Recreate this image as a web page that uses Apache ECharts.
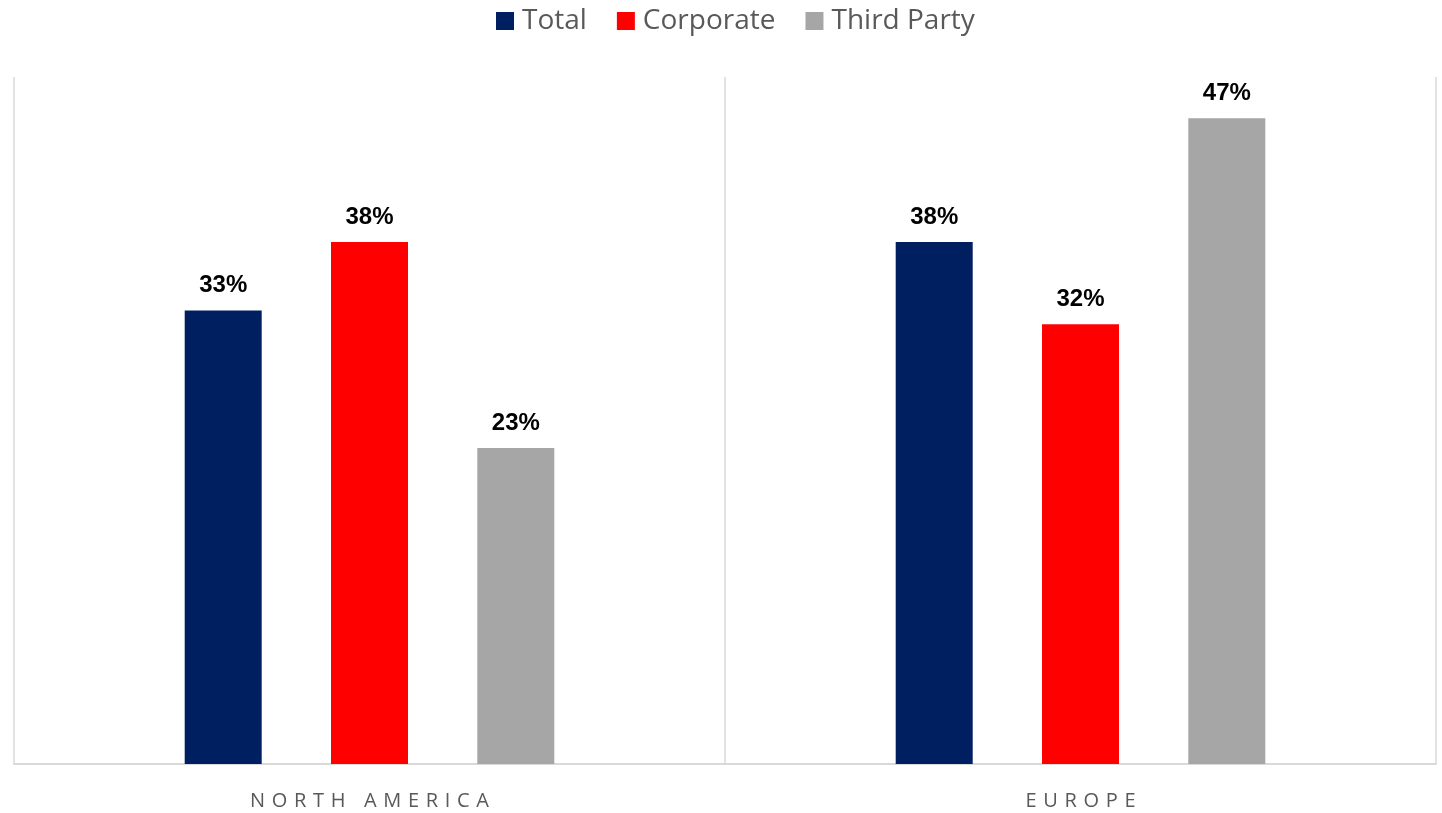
<!DOCTYPE html>
<html>
<head>
<meta charset="utf-8">
<style>
  html, body { margin: 0; padding: 0; background: #ffffff; }
  #chart { width: 1442px; height: 813px; }
</style>
<script src="https://cdn.jsdelivr.net/npm/echarts@6/dist/echarts.min.js"></script>
</head>
<body>
<div id="chart"></div>
<script>
// Regions on the category axis
const categories = ['NORTH AMERICA', 'EUROPE'];
// Share (%) per region for each group
const totalValues = [33, 38];
const corporateValues = [38, 32];
const thirdPartyValues = [23, 47];

const chart = echarts.init(document.getElementById('chart'));

// Spread letters of the axis labels apart
const spaced = s => s.split('').join('\u2004');

const labelStyle = {
  show: true,
  position: 'top',
  distance: 13,
  formatter: '{c}%',
  color: '#000000',
  fontWeight: 'bold',
  fontSize: 24,
  fontFamily: 'Liberation Sans, Arial, sans-serif'
};

chart.setOption({
  animation: false,
  legend: {
    top: 2,
    left: 491,
    itemWidth: 18,
    itemHeight: 18,
    itemGap: 30,
    icon: 'rect',
    textStyle: { fontSize: 28, color: '#595959', fontFamily: 'Open Sans, sans-serif', padding: [0, 0, 0, 3] },
    data: ['Total', 'Corporate', 'Third Party']
  },
  grid: { left: 14, right: 6, top: 77, bottom: 49, containLabel: false },
  xAxis: {
    type: 'category',
    data: categories,
    axisLine: { show: true, lineStyle: { color: '#d9d9d9', width: 2 } },
    axisTick: { show: false },
    splitLine: { show: true, lineStyle: { color: '#d9d9d9', width: 1.5 } },
    axisLabel: {
      margin: 27,
      fontSize: 20,
      color: '#595959',
      fontFamily: 'Open Sans, sans-serif',
      formatter: v => spaced(v)
    }
  },
  yAxis: {
    type: 'value',
    min: 0,
    max: 50,
    show: false,
    splitLine: { show: false }
  },
  series: [
    { name: 'Total', type: 'bar', data: totalValues, barWidth: 77, barGap: '90%',
      itemStyle: { color: '#001f60' }, label: labelStyle },
    { name: 'Corporate', type: 'bar', data: corporateValues, barWidth: 77, barGap: '90%',
      itemStyle: { color: '#ff0000' }, label: labelStyle },
    { name: 'Third Party', type: 'bar', data: thirdPartyValues, barWidth: 77, barGap: '90%',
      itemStyle: { color: '#a6a6a6' }, label: labelStyle }
  ]
});
</script>
</body>
</html>
